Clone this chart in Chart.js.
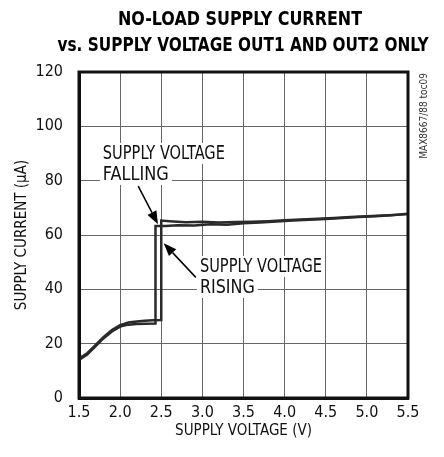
<!DOCTYPE html>
<html>
<head>
<meta charset="utf-8">
<script src="https://cdn.jsdelivr.net/npm/chart.js@4"></script>
<style>
  body { margin: 0; background: #fff; }
  canvas { display: block; }
</style>
</head>
<body>
<canvas id="chart" width="444" height="457"></canvas>
<script>
// supply voltage sweeping up
var risingVolts = [1.5, 1.6, 1.7, 1.8, 1.9, 2.0, 2.1, 2.2, 2.3, 2.4, 2.5, 2.5, 2.6, 2.8, 3.0, 3.2, 3.4, 3.6, 3.8, 4.0, 4.2, 4.4, 4.6, 4.8, 5.0, 5.2, 5.4, 5.5];
var risingCurrent = [14.5, 16.5, 19.5, 22.5, 25.0, 26.8, 27.8, 28.2, 28.4, 28.6, 28.7, 65.3, 65.1, 64.7, 64.9, 64.6, 64.8, 64.9, 65.1, 65.4, 65.7, 66.0, 66.3, 66.6, 66.9, 67.2, 67.5, 67.7];

// supply voltage sweeping down
var fallingVolts = [1.5, 1.6, 1.7, 1.8, 1.9, 2.0, 2.1, 2.2, 2.3, 2.43, 2.43, 2.55, 2.7, 2.9, 3.1, 3.3, 3.5, 3.7, 3.9, 4.1, 4.3, 4.5, 4.7, 4.9, 5.1, 5.3, 5.5];
var fallingCurrent = [14.0, 16.0, 19.0, 22.0, 24.5, 26.3, 27.0, 27.2, 27.3, 27.4, 63.3, 63.3, 63.6, 63.5, 64.0, 63.8, 64.3, 64.6, 65.0, 65.3, 65.6, 65.9, 66.3, 66.6, 66.9, 67.3, 67.8];

var xTicks = [1.5, 2.0, 2.5, 3.0, 3.5, 4.0, 4.5, 5.0, 5.5];
var yTicks = [0, 20, 40, 60, 80, 100, 120];

var titleLines = ['NO-LOAD SUPPLY CURRENT', 'vs. SUPPLY VOLTAGE OUT1 AND OUT2 ONLY'];
var fallingLabel = ['SUPPLY VOLTAGE', 'FALLING'];
var risingLabel = ['SUPPLY VOLTAGE', 'RISING'];
var sideNote = 'MAX8667/88 toc09';

var NARROW = "'Liberation Sans Narrow', 'Arial Narrow', 'DejaVu Sans Condensed', 'Roboto Condensed', sans-serif";

function toPoints(xs, ys) {
  var pts = [];
  for (var i = 0; i < xs.length; i++) {
    pts.push({ x: xs[i], y: ys[i] });
  }
  return pts;
}

// draw text squeezed horizontally to fit a given width
function squeezed(ctx, text, x, y, width, align) {
  var w = ctx.measureText(text).width;
  var k = Math.min(1, width / w);
  ctx.save();
  ctx.translate(x, y);
  ctx.scale(k, 1);
  ctx.textAlign = align;
  ctx.fillText(text, 0, 0);
  ctx.restore();
  return w * k;
}

function arrow(ctx, x1, y1, x2, y2) {
  var ang = Math.atan2(y2 - y1, x2 - x1);
  var len = 13, half = 5;
  ctx.beginPath();
  ctx.moveTo(x1, y1);
  ctx.lineTo(x2 - Math.cos(ang) * len, y2 - Math.sin(ang) * len);
  ctx.stroke();
  ctx.beginPath();
  ctx.moveTo(x2, y2);
  ctx.lineTo(x2 - Math.cos(ang) * len - Math.sin(ang) * half, y2 - Math.sin(ang) * len + Math.cos(ang) * half);
  ctx.lineTo(x2 - Math.cos(ang) * len + Math.sin(ang) * half, y2 - Math.sin(ang) * len - Math.cos(ang) * half);
  ctx.closePath();
  ctx.fill();
}

function label(ctx, lines, widths, x, y, lineGap) {
  ctx.font = '19px ' + NARROW;
  ctx.textBaseline = 'alphabetic';
  for (var i = 0; i < lines.length; i++) {
    var w = Math.min(widths[i], ctx.measureText(lines[i]).width);
    ctx.fillStyle = '#fff';
    ctx.fillRect(x - 3, y + i * lineGap - 16, w + 6, lineGap);
    ctx.fillStyle = '#111';
    squeezed(ctx, lines[i], x, y + i * lineGap, widths[i], 'left');
  }
}

var extras = {
  id: 'extras',
  afterDraw: function(chart) {
    var ctx = chart.ctx;
    var a = chart.chartArea;
    var xs = chart.scales.x, ys = chart.scales.y;
    var px = function(v) { return xs.getPixelForValue(v); };
    var py = function(v) { return ys.getPixelForValue(v); };
    ctx.save();

    // title
    ctx.fillStyle = '#000';
    ctx.textBaseline = 'alphabetic';
    ctx.font = 'bold 20px ' + NARROW;
    squeezed(ctx, titleLines[0], 240, 25, 244, 'center');
    squeezed(ctx, titleLines[1], 243, 51, 371, 'center');

    // annotations
    label(ctx, fallingLabel, [122, 66], px(1.79), py(88), 21);
    label(ctx, risingLabel, [122, 55], px(2.97), py(46.4), 21);
    ctx.strokeStyle = '#000';
    ctx.fillStyle = '#000';
    ctx.lineWidth = 1.5;
    arrow(ctx, px(2.22), py(78), px(2.46), py(64));
    arrow(ctx, px(2.92), py(44.4), px(2.53), py(57));

    // frame
    ctx.lineWidth = 3;
    ctx.strokeStyle = '#111';
    ctx.strokeRect(a.left, a.top, a.right - a.left, a.bottom - a.top);

    // side note
    ctx.translate(a.right + 16, a.top + 1);
    ctx.rotate(-Math.PI / 2);
    ctx.font = '10px ' + NARROW;
    ctx.fillStyle = '#333';
    ctx.textBaseline = 'middle';
    squeezed(ctx, sideNote, 0, 0, 88, 'right');
    ctx.restore();
  }
};

var lineStyle = {
  showLine: true,
  pointRadius: 0,
  borderWidth: 2.5,
  borderColor: '#2a2a2a',
  tension: 0
};

new Chart(document.getElementById('chart').getContext('2d'), {
  type: 'scatter',
  data: {
    datasets: [
      Object.assign({ label: 'Rising', data: toPoints(risingVolts, risingCurrent) }, lineStyle),
      Object.assign({ label: 'Falling', data: toPoints(fallingVolts, fallingCurrent) }, lineStyle)
    ]
  },
  options: {
    responsive: false,
    animation: false,
    layout: { padding: { top: 72, right: 36, left: 0, bottom: 0 } },
    plugins: {
      legend: { display: false },
      tooltip: { enabled: false }
    },
    scales: {
      x: {
        type: 'linear',
        min: 1.5,
        max: 5.5,
        afterBuildTicks: function(scale) {
          scale.ticks = xTicks.map(function(v) { return { value: v }; });
        },
        afterFit: function(scale) { scale.height = 59; },
        ticks: {
          color: '#111',
          font: { family: NARROW, size: 16 },
          padding: 5,
          maxRotation: 0,
          callback: function(v) { return v.toFixed(1); }
        },
        grid: { color: '#666', lineWidth: 1, drawTicks: false },
        border: { color: '#111', width: 3 },
        title: {
          display: true,
          text: 'SUPPLY VOLTAGE (V)',
          color: '#111',
          font: { family: NARROW, size: 15 },
          padding: { top: 0, bottom: 17 }
        }
      },
      y: {
        min: 0,
        max: 120,
        afterBuildTicks: function(scale) {
          scale.ticks = yTicks.map(function(v) { return { value: v }; });
        },
        afterFit: function(scale) { scale.width = 79; },
        ticks: {
          color: '#111',
          font: { family: NARROW, size: 16 },
          padding: 16
        },
        grid: { color: '#666', lineWidth: 1, drawTicks: false },
        border: { color: '#111', width: 3 },
        title: {
          display: true,
          text: 'SUPPLY CURRENT (\u03bcA)',
          color: '#111',
          font: { family: NARROW, size: 15 },
          padding: { top: 13, bottom: 0 }
        }
      }
    }
  },
  plugins: [extras]
});
</script>
</body>
</html>
